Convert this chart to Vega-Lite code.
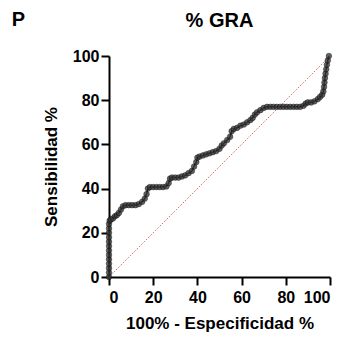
{
  "$schema": "https://vega.github.io/schema/vega-lite/v6.json",
  "width": 221,
  "height": 221,
  "autosize": "none",
  "padding": {"left": 109, "top": 56, "right": 16, "bottom": 61},
  "background": "white",
  "config": {
    "view": {"stroke": null},
    "font": "Liberation Sans",
    "axis": {
      "grid": false,
      "domainColor": "black",
      "domainWidth": 2,
      "tickColor": "black",
      "tickWidth": 2,
      "tickSize": 8,
      "labelFont": "Liberation Sans",
      "labelFontWeight": "bold",
      "labelFontSize": 16,
      "labelColor": "black",
      "titleFont": "Liberation Sans",
      "titleFontWeight": "bold",
      "titleFontSize": 17,
      "titleColor": "black"
    }
  },
  "title": {
    "text": "% GRA",
    "fontSize": 20,
    "fontWeight": "bold",
    "font": "Liberation Sans",
    "color": "black",
    "anchor": "middle",
    "frame": "group",
    "baseline": "alphabetic",
    "offset": 0,
    "dy": 37
  },
  "datasets": {
    "roc": [
      {"fpr": 0, "tpr": 0}, {"fpr": 0, "tpr": 2}, {"fpr": 0, "tpr": 4}, {"fpr": 0, "tpr": 6},
      {"fpr": 0, "tpr": 8}, {"fpr": 0, "tpr": 10}, {"fpr": 0, "tpr": 12}, {"fpr": 0, "tpr": 14},
      {"fpr": 0, "tpr": 16}, {"fpr": 0, "tpr": 18}, {"fpr": 0, "tpr": 20}, {"fpr": 0, "tpr": 22},
      {"fpr": 0, "tpr": 24}, {"fpr": 0.3, "tpr": 25.5},
      {"fpr": 0.8, "tpr": 26}, {"fpr": 1.8, "tpr": 26.5}, {"fpr": 2.7, "tpr": 27.5}, {"fpr": 3.6, "tpr": 28},
      {"fpr": 4.5, "tpr": 29}, {"fpr": 5.4, "tpr": 30.5}, {"fpr": 6.3, "tpr": 32}, {"fpr": 7.5, "tpr": 32.5},
      {"fpr": 9, "tpr": 32.5}, {"fpr": 10.5, "tpr": 32.5}, {"fpr": 12, "tpr": 32.5}, {"fpr": 13.5, "tpr": 33},
      {"fpr": 15, "tpr": 34}, {"fpr": 16.2, "tpr": 35.5}, {"fpr": 17, "tpr": 37.5}, {"fpr": 17.6, "tpr": 40},
      {"fpr": 18.5, "tpr": 40.7}, {"fpr": 20, "tpr": 40.7}, {"fpr": 21.5, "tpr": 40.7}, {"fpr": 23, "tpr": 40.7},
      {"fpr": 24.5, "tpr": 40.7}, {"fpr": 26, "tpr": 41}, {"fpr": 27, "tpr": 42.5}, {"fpr": 27.6, "tpr": 44.5},
      {"fpr": 28.5, "tpr": 45}, {"fpr": 30, "tpr": 45}, {"fpr": 31.5, "tpr": 45}, {"fpr": 33, "tpr": 45.5},
      {"fpr": 34.5, "tpr": 46}, {"fpr": 36, "tpr": 47}, {"fpr": 37.5, "tpr": 48}, {"fpr": 38.5, "tpr": 50},
      {"fpr": 39.5, "tpr": 52}, {"fpr": 40, "tpr": 54}, {"fpr": 41, "tpr": 54.5}, {"fpr": 42.5, "tpr": 55},
      {"fpr": 44, "tpr": 55.5}, {"fpr": 45.5, "tpr": 56}, {"fpr": 47, "tpr": 56.5}, {"fpr": 48.5, "tpr": 57},
      {"fpr": 50, "tpr": 58}, {"fpr": 51, "tpr": 59.5}, {"fpr": 52, "tpr": 60.5}, {"fpr": 53.5, "tpr": 62},
      {"fpr": 54.8, "tpr": 63.5}, {"fpr": 55.5, "tpr": 66}, {"fpr": 56.5, "tpr": 67}, {"fpr": 58, "tpr": 67.5},
      {"fpr": 59.5, "tpr": 68.5}, {"fpr": 61, "tpr": 69}, {"fpr": 62.5, "tpr": 70}, {"fpr": 64, "tpr": 71},
      {"fpr": 65, "tpr": 72}, {"fpr": 66, "tpr": 73.5}, {"fpr": 67, "tpr": 74.5}, {"fpr": 68.5, "tpr": 75.5},
      {"fpr": 70, "tpr": 76.5}, {"fpr": 71.5, "tpr": 77}, {"fpr": 73, "tpr": 77}, {"fpr": 74.5, "tpr": 77},
      {"fpr": 76, "tpr": 77}, {"fpr": 77.5, "tpr": 77}, {"fpr": 79, "tpr": 77}, {"fpr": 80.5, "tpr": 77},
      {"fpr": 82, "tpr": 77}, {"fpr": 83.5, "tpr": 77}, {"fpr": 85, "tpr": 77}, {"fpr": 86.5, "tpr": 77},
      {"fpr": 88, "tpr": 77.5}, {"fpr": 89, "tpr": 78.5}, {"fpr": 90, "tpr": 79}, {"fpr": 91.5, "tpr": 79},
      {"fpr": 93, "tpr": 79.5}, {"fpr": 94.5, "tpr": 80.5}, {"fpr": 95.5, "tpr": 81.5}, {"fpr": 96.5, "tpr": 82.5},
      {"fpr": 97, "tpr": 84}, {"fpr": 97.3, "tpr": 86}, {"fpr": 97.5, "tpr": 88}, {"fpr": 97.7, "tpr": 90},
      {"fpr": 98, "tpr": 92}, {"fpr": 98.3, "tpr": 94}, {"fpr": 98.6, "tpr": 96}, {"fpr": 99, "tpr": 98},
      {"fpr": 99.5, "tpr": 100}
    ],
    "diag": [{"fpr": 0, "tpr": 0}, {"fpr": 100, "tpr": 100}],
    "panel": [{"label": "P", "fpr": -44, "tpr": 113.6}]
  },
  "layer": [
    {
      "data": {"name": "diag"},
      "mark": {"type": "line", "color": "#d9413a", "strokeWidth": 1, "strokeDash": [1, 1.5]},
      "encoding": {
        "x": {"field": "fpr", "type": "quantitative", "scale": {"domain": [0, 100]},
          "axis": {"values": [0, 20, 40, 60, 80, 100], "title": "100% - Especificidad %", "labelPadding": 4, "titlePadding": 10}},
        "y": {"field": "tpr", "type": "quantitative", "scale": {"domain": [0, 100]},
          "axis": {"values": [0, 20, 40, 60, 80, 100], "title": "Sensibilidad %", "labelPadding": 2, "titlePadding": 12}}
      }
    },
    {
      "data": {"name": "roc"},
      "mark": {"type": "line", "color": "black", "strokeWidth": 1.5},
      "encoding": {
        "x": {"field": "fpr", "type": "quantitative"},
        "y": {"field": "tpr", "type": "quantitative"},
        "order": {"field": "tpr", "type": "quantitative"}
      }
    },
    {
      "data": {"name": "roc"},
      "mark": {"type": "point", "filled": true, "color": "#3a3a3a", "size": 32, "opacity": 0.8, "stroke": "black", "strokeWidth": 0.5},
      "encoding": {
        "x": {"field": "fpr", "type": "quantitative"},
        "y": {"field": "tpr", "type": "quantitative"}
      }
    },
    {
      "data": {"name": "panel"},
      "mark": {"type": "text", "fontSize": 20, "fontWeight": "bold", "font": "Liberation Sans", "color": "black", "align": "left", "baseline": "alphabetic", "clip": false},
      "encoding": {
        "x": {"field": "fpr", "type": "quantitative"},
        "y": {"field": "tpr", "type": "quantitative"},
        "text": {"field": "label"}
      }
    }
  ]
}
